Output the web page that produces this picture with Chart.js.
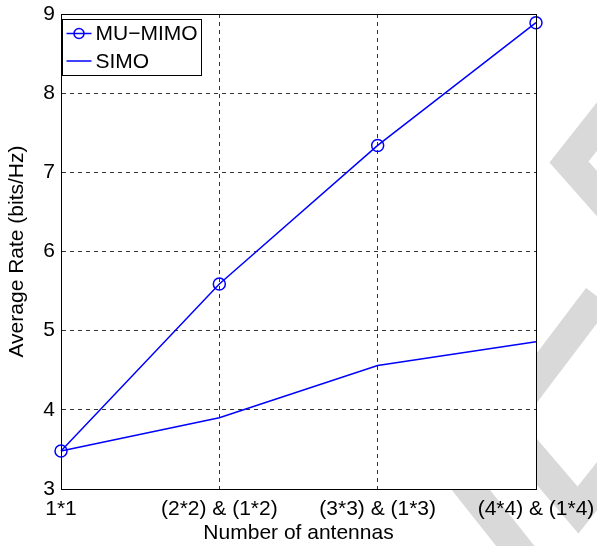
<!DOCTYPE html>
<html>
<head>
<meta charset="utf-8">
<script src="https://cdn.jsdelivr.net/npm/chart.js@4/dist/chart.umd.min.js"></script>
<style>
  body { margin: 0; background: #fff; }
  #wrap { width: 597px; height: 546px; }
</style>
</head>
<body>
<div id="wrap"><canvas id="chart"></canvas></div>
<script>
const categories = ['1*1', '(2*2) & (1*2)', '(3*3) & (1*3)', '(4*4) & (1*4)'];
const muMimo = [3.48, 5.59, 7.34, 8.89];
const simo = [3.48, 3.90, 4.56, 4.86];
const yMin = 3;
const yMax = 9;

const FONT = '"Liberation Sans", Arial, sans-serif';
const BLUE = '#0000ff';

// grey watermark stripes behind the axes, plus white plot box
const background = {
    id: 'background',
    beforeDraw(chart) {
        const { ctx, chartArea: a } = chart;
        ctx.save();
        ctx.fillStyle = '#fff';
        ctx.fillRect(0, 0, chart.width, chart.height);
        ctx.strokeStyle = '#d9d9d9';
        ctx.lineWidth = 30;
        ctx.lineJoin = 'miter';
        ctx.lineCap = 'butt';
        const bands = [
            [[640, 72], [569, 162], [640, 242]],
            [[598, 297], [480, 453]],
            [[513, 434], [578, 510], [640, 432]],
            [[436, 446], [528, 562]]
        ];
        bands.forEach(b => {
            ctx.beginPath();
            ctx.moveTo(b[0][0], b[0][1]);
            b.slice(1).forEach(p => ctx.lineTo(p[0], p[1]));
            ctx.stroke();
        });
        ctx.fillStyle = '#fff';
        ctx.fillRect(a.left, a.top, a.right - a.left, a.bottom - a.top);
        ctx.restore();
    }
};

// full box around the plot and the legend in the top left corner
const frameAndLegend = {
    id: 'frameAndLegend',
    afterDraw(chart) {
        const { ctx, chartArea: a } = chart;
        ctx.save();
        ctx.strokeStyle = '#000';
        ctx.lineWidth = 1;
        ctx.setLineDash([]);
        ctx.strokeRect(a.left + 0.5, a.top + 0.5, a.right - a.left, a.bottom - a.top);

        const x0 = a.left + 1.5, y0 = a.top + 5.5, w = 139, h = 56;
        ctx.fillStyle = '#fff';
        ctx.fillRect(x0, y0, w, h);
        ctx.strokeRect(x0, y0, w, h);

        ctx.font = '21px ' + FONT;
        ctx.textBaseline = 'middle';
        chart.data.datasets.forEach((ds, i) => {
            const cy = y0 + 14 + i * 27.5;
            ctx.strokeStyle = ds.borderColor;
            ctx.lineWidth = 1.5;
            ctx.beginPath();
            ctx.moveTo(x0 + 4, cy);
            ctx.lineTo(x0 + 29, cy);
            ctx.stroke();
            if (ds.pointRadius > 0) {
                ctx.beginPath();
                ctx.arc(x0 + 16.5, cy, 5, 0, Math.PI * 2);
                ctx.stroke();
            }
            ctx.fillStyle = '#000';
            ctx.fillText(ds.label, x0 + 33, cy + 1);
        });
        ctx.restore();
    }
};

new Chart(document.getElementById('chart'), {
    type: 'line',
    data: {
        labels: categories,
        datasets: [{
            label: 'MU\u2212MIMO',
            data: muMimo,
            borderColor: BLUE,
            backgroundColor: 'transparent',
            borderWidth: 1.5,
            pointRadius: 6,
            pointBorderWidth: 1.5,
            pointBorderColor: BLUE,
            pointBackgroundColor: 'transparent',
            tension: 0
        }, {
            label: 'SIMO',
            data: simo,
            borderColor: BLUE,
            backgroundColor: 'transparent',
            borderWidth: 1.5,
            pointRadius: 0,
            tension: 0
        }]
    },
    options: {
        responsive: true,
        maintainAspectRatio: false,
        animation: false,
        layout: { padding: { top: 14, right: 61, left: 0, bottom: 0 } },
        plugins: {
            legend: { display: false },
            tooltip: { enabled: false }
        },
        scales: {
            x: {
                type: 'category',
                offset: false,
                grid: { color: '#333', lineWidth: 1, drawTicks: false },
                border: { display: true, color: '#000', dash: [4, 4] },
                ticks: {
                    color: '#000',
                    font: { family: FONT, size: 21 },
                    padding: 8,
                    autoSkip: false,
                    maxRotation: 0
                },
                title: {
                    display: true,
                    text: 'Number of antennas',
                    color: '#000',
                    font: { family: FONT, size: 21 },
                    padding: { top: 0, bottom: 0 }
                },
                afterFit(scale) {
                    scale.height = 57;
                    scale.paddingLeft = 0;
                    scale.paddingRight = 0;
                }
            },
            y: {
                min: yMin,
                max: yMax,
                grid: { color: '#333', lineWidth: 1, drawTicks: false },
                border: { display: true, color: '#000', dash: [4, 4] },
                ticks: {
                    stepSize: 1,
                    color: '#000',
                    font: { family: FONT, size: 21 },
                    padding: 6
                },
                title: {
                    display: true,
                    text: 'Average Rate (bits/Hz)',
                    color: '#000',
                    font: { family: FONT, size: 21 },
                    padding: { top: 5, bottom: 0 }
                },
                afterFit(scale) {
                    scale.width = 61;
                    scale.paddingTop = 0;
                    scale.paddingBottom = 0;
                }
            }
        }
    },
    plugins: [background, frameAndLegend]
});
</script>
</body>
</html>
